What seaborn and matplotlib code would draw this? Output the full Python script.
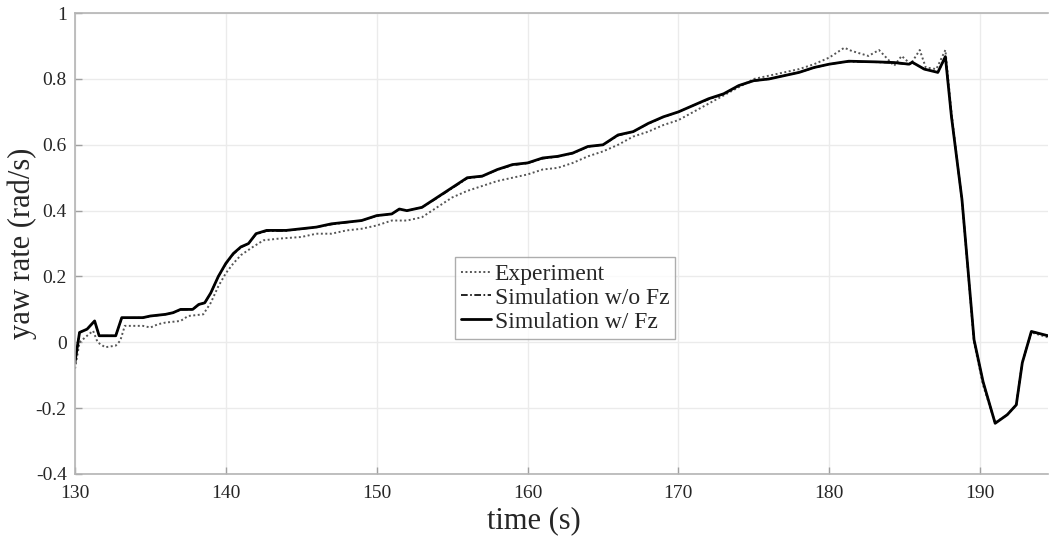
import numpy as np
import pandas as pd
import matplotlib
matplotlib.use('Agg')
import matplotlib.pyplot as plt
import seaborn as sns

# simulation w/ Fz
t_sim = [130.0, 130.3, 130.8, 131.3, 131.6, 132.7, 133.1, 134.5, 135.0, 136.0, 136.5, 137.0,
         137.8, 138.2, 138.6, 139.0, 139.5, 140.0, 140.5, 141.0, 141.5, 142.0, 142.7, 144.0,
         145.0, 146.0, 147.0, 148.0, 149.0, 150.0, 151.0, 151.5, 152.0, 153.0, 154.0, 155.0,
         156.0, 157.0, 158.0, 159.0, 160.0, 161.0, 162.0, 163.0, 164.0, 165.0, 166.0, 167.0,
         168.0, 169.0, 170.0, 171.0, 172.0, 173.0, 174.0, 175.0, 176.0, 177.0, 178.0, 179.0,
         180.0, 181.3, 183.1, 184.3, 185.3, 185.5, 186.3, 187.2, 187.7, 188.1, 188.8, 189.6,
         190.2, 191.0, 191.8, 192.4, 192.8, 193.4, 194.5]
y_sim = [-0.06, 0.03, 0.04, 0.065, 0.02, 0.02, 0.075, 0.075, 0.08, 0.085, 0.09, 0.10,
         0.10, 0.115, 0.12, 0.15, 0.20, 0.24, 0.27, 0.29, 0.30, 0.33, 0.34, 0.34,
         0.345, 0.35, 0.36, 0.365, 0.37, 0.385, 0.39, 0.405, 0.40, 0.41, 0.44, 0.47,
         0.50, 0.505, 0.525, 0.54, 0.545, 0.56, 0.565, 0.575, 0.595, 0.60, 0.63, 0.64,
         0.665, 0.685, 0.70, 0.72, 0.74, 0.755, 0.78, 0.795, 0.80, 0.81, 0.82, 0.835,
         0.845, 0.854, 0.852, 0.85, 0.845, 0.851, 0.83, 0.82, 0.868, 0.687, 0.434, 0.008,
         -0.12, -0.246, -0.22, -0.19, -0.062, 0.033, 0.02]

# simulation w/o Fz (almost on top of the w/ Fz curve)
y_nofz = [-0.06, 0.03, 0.04, 0.064, 0.02, 0.02, 0.074, 0.075, 0.079, 0.085, 0.09, 0.099,
          0.10, 0.114, 0.12, 0.15, 0.20, 0.238, 0.268, 0.288, 0.30, 0.328, 0.338, 0.339,
          0.344, 0.35, 0.358, 0.364, 0.37, 0.384, 0.39, 0.404, 0.40, 0.41, 0.438, 0.468,
          0.498, 0.504, 0.524, 0.538, 0.544, 0.558, 0.564, 0.574, 0.594, 0.60, 0.628, 0.64,
          0.664, 0.684, 0.70, 0.72, 0.738, 0.754, 0.78, 0.794, 0.80, 0.81, 0.82, 0.834,
          0.845, 0.853, 0.851, 0.849, 0.844, 0.85, 0.83, 0.82, 0.866, 0.687, 0.434, 0.008,
          -0.12, -0.245, -0.22, -0.19, -0.062, 0.033, 0.02]

# experiment
t_exp = [130.0, 130.3, 130.8, 131.2, 131.5, 132.0, 132.7, 133.0, 133.3, 134.5, 135.0, 135.5,
         136.0, 137.0, 137.5, 138.5, 139.0, 139.5, 140.0, 140.5, 141.0, 141.8, 142.5, 143.5,
         145.0, 146.0, 147.0, 148.0, 149.0, 150.0, 151.0, 152.0, 153.0, 154.0, 155.0, 156.0,
         157.0, 158.0, 159.0, 160.0, 161.0, 162.0, 163.0, 164.0, 165.0, 166.0, 167.0, 168.0,
         169.0, 170.0, 171.0, 172.0, 173.0, 174.0, 175.0, 176.0, 177.0, 178.0, 179.0, 180.0,
         181.0, 181.5, 182.6, 183.3, 184.3, 184.8, 185.4, 186.0, 186.4, 187.1, 187.7, 188.1,
         188.8, 189.6, 190.2, 191.0, 191.8, 192.4, 192.8, 193.4, 194.5]
y_exp = [-0.08, 0.0, 0.02, 0.035, 0.0, -0.015, -0.01, 0.005, 0.05, 0.05, 0.045, 0.055,
         0.06, 0.065, 0.08, 0.085, 0.12, 0.17, 0.21, 0.24, 0.265, 0.29, 0.31, 0.315,
         0.32, 0.33, 0.33, 0.34, 0.345, 0.355, 0.37, 0.37, 0.38, 0.41, 0.44, 0.46,
         0.475, 0.49, 0.50, 0.51, 0.525, 0.53, 0.545, 0.565, 0.58, 0.60, 0.625, 0.64,
         0.66, 0.675, 0.70, 0.725, 0.75, 0.775, 0.80, 0.81, 0.82, 0.83, 0.845, 0.865,
         0.895, 0.885, 0.87, 0.888, 0.84, 0.87, 0.845, 0.888, 0.835, 0.83, 0.888, 0.70,
         0.43, 0.0, -0.13, -0.245, -0.22, -0.19, -0.06, 0.03, 0.015]

sns.set_style('white')
plt.rcParams['font.family'] = ['Liberation Serif', 'DejaVu Serif']

fig = plt.figure(figsize=(10.49, 5.39), dpi=100)
ax = fig.add_axes([0.0715, 0.1206, 0.9275, 0.855])

df_exp = pd.DataFrame({'t': t_exp, 'y': y_exp})
df_nofz = pd.DataFrame({'t': t_sim, 'y': y_nofz})
df_fz = pd.DataFrame({'t': t_sim, 'y': y_sim})

sns.lineplot(data=df_exp, x='t', y='y', ax=ax, color='#555555', lw=1.4,
             linestyle=(0, (1, 1.3)), label='Experiment', sort=False)
sns.lineplot(data=df_nofz, x='t', y='y', ax=ax, color='black', lw=1.2,
             linestyle=(0, (4, 1.5, 1, 1.5)), label='Simulation w/o Fz', sort=False)
sns.lineplot(data=df_fz, x='t', y='y', ax=ax, color='black', lw=2.0,
             label='Simulation w/ Fz', sort=False)

ax.set_xlim(130, 194.5)
ax.set_ylim(-0.4, 1.0)
ax.set_xticks([130, 140, 150, 160, 170, 180, 190])
ax.set_yticks([-0.4, -0.2, 0, 0.2, 0.4, 0.6, 0.8, 1])
ax.set_yticklabels(['-0.4', '-0.2', '0', '0.2', '0.4', '0.6', '0.8', '1'])
ax.grid(True, color='#ebebeb', lw=1.0)
ax.tick_params(direction='in', length=5, width=1, colors='#a0a0a0',
               labelcolor='#262626', labelsize=14, left=True, bottom=True)
ax.tick_params(axis='x', pad=8)
ax.tick_params(axis='y', pad=6)
for s in ['left', 'bottom', 'top']:
    ax.spines[s].set_color('#b4b4b4')
    ax.spines[s].set_linewidth(1.2)
ax.spines['right'].set_visible(False)

ax.set_xlabel('time (s)', fontsize=22, color='#262626')
ax.xaxis.set_label_coords(0.472, -0.102, transform=ax.transAxes)
ax.xaxis.label.set_va('center')
ax.set_ylabel('yaw rate (rad/s)', fontsize=22, color='#262626')
ax.yaxis.set_label_coords(-0.054, 0.5, transform=ax.transAxes)
ax.yaxis.label.set_va('center')

leg = ax.legend(loc='center', bbox_to_anchor=(0.504, 0.382), fontsize=17,
                frameon=True, fancybox=False, handlelength=1.25, handletextpad=0.17,
                borderpad=0.25, labelspacing=0.1, borderaxespad=0)
leg.get_frame().set_edgecolor('#999999')
leg.get_frame().set_linewidth(1.0)

fig.savefig('out.png', dpi=100)
